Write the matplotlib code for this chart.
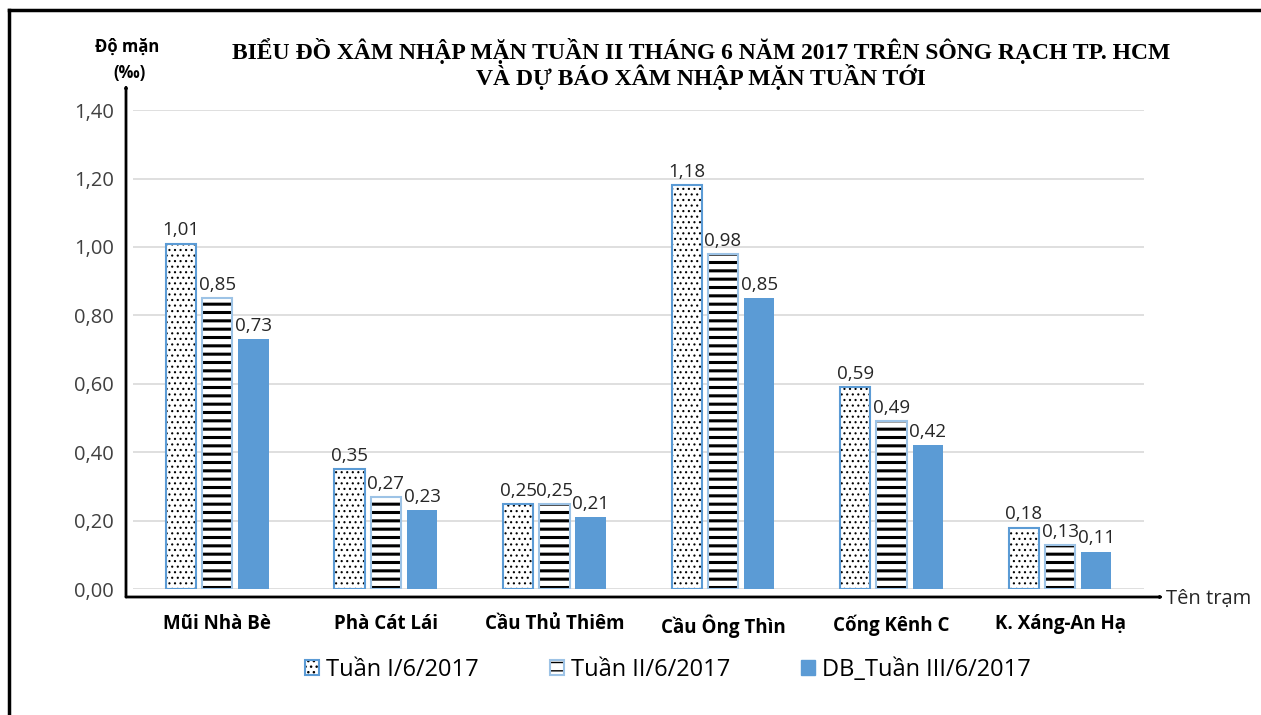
import matplotlib
matplotlib.use("Agg")
import matplotlib.pyplot as plt
from matplotlib.legend_handler import HandlerTuple
from matplotlib.patches import Rectangle
import numpy as np

stations = ["Mũi Nhà Bè", "Phà Cát Lái", "Cầu Thủ Thiêm", "Cầu Ông Thìn", "Cống Kênh C", "K. Xáng-An Hạ"]
week1 = [1.01, 0.35, 0.25, 1.18, 0.59, 0.18]
week2 = [0.85, 0.27, 0.25, 0.98, 0.49, 0.13]
week3_forecast = [0.73, 0.23, 0.21, 0.85, 0.42, 0.11]
series_names = ["Tuần I/6/2017", "Tuần II/6/2017", "DB_Tuần III/6/2017"]
yticks = [0.0, 0.2, 0.4, 0.6, 0.8, 1.0, 1.2, 1.4]

BLUE = "#5B9BD5"
LIGHT_BLUE = "#9DC3E6"
SANS = ["Open Sans", "DejaVu Sans"]

plt.rcParams["font.family"] = SANS

fig = plt.figure(figsize=(12.61, 7.15), dpi=100)
ax = fig.add_axes([0.1055, 0.176, 0.802, 0.67])

x = np.arange(len(stations))
step = 0.215
width = 0.18

# series 1: dotted fill, blue outline
with plt.rc_context({"hatch.linewidth": 0.8}):
    ax.bar(x - step, week1, width, color="white", edgecolor="black", hatch="...", linewidth=0, zorder=3)
ax.bar(x - step, week1, width, color="none", edgecolor=BLUE, linewidth=1.5, zorder=4)
# series 2: horizontal lines, light blue outline
with plt.rc_context({"hatch.linewidth": 2.2}):
    ax.bar(x, week2, width, color="white", edgecolor="black", hatch="--", linewidth=0, zorder=3)
ax.bar(x, week2, width, color="none", edgecolor=LIGHT_BLUE, linewidth=1.5, zorder=4)
# series 3: solid
ax.bar(x + step, week3_forecast, width, color=BLUE, edgecolor=BLUE, linewidth=0, zorder=3)

for offs, vals in [(-step, week1), (0, week2), (step, week3_forecast)]:
    for xi, v in zip(x + offs, vals):
        ax.text(xi, v + 0.012, f"{v:.2f}".replace(".", ","), ha="center", va="bottom",
                fontsize=13.5, color="#262626", zorder=5)

ax.set_xlim(-0.5, len(stations) - 0.5)
ax.set_ylim(0, 1.4)
ax.set_yticks(yticks)
ax.set_yticklabels([f"{t:.2f}".replace(".", ",") for t in yticks], fontsize=14.5, color="#404040")
ax.set_xticks(x)
ax.set_xticklabels(stations, fontsize=13.5, fontweight="bold", color="black")
ax.tick_params(axis="both", length=0)
ax.tick_params(axis="y", pad=14)
ax.tick_params(axis="x", pad=18)
ax.grid(axis="y", color="#D9D9D9", linewidth=1.2, zorder=0)
for s in ax.spines.values():
    s.set_visible(False)

# axis arrows drawn in figure pixel fraction coords
def fx(px):
    return px / 1261

def fy(py):
    return 1 - py / 715

arrow = dict(arrowstyle="-|>,head_length=0.8,head_width=0.35", color="black", lw=2, shrinkA=0, shrinkB=0)
fig.add_artist(matplotlib.patches.FancyArrowPatch((fx(126), fy(597)), (fx(126), fy(84)),
                                                  transform=fig.transFigure, **arrow))
fig.add_artist(matplotlib.patches.FancyArrowPatch((fx(126), fy(597)), (fx(1164), fy(597)),
                                                  transform=fig.transFigure, **arrow))

fig.text(fx(1166), fy(599), "Tên trạm", fontsize=14.5, ha="left", va="center", color="#262626")
fig.text(fx(127), fy(47), "Độ mặn", fontsize=12, fontweight="bold", ha="center", va="center")
fig.text(fx(130), fy(73), "(‰)", fontsize=12, fontweight="bold", ha="center", va="center")

fig.text(fx(701), fy(64),
         "BIỂU ĐỒ XÂM NHẬP MẶN TUẦN II THÁNG 6 NĂM 2017 TRÊN SÔNG RẠCH TP. HCM\nVÀ DỰ BÁO XÂM NHẬP MẶN TUẦN TỚI",
         fontsize=17, fontweight="bold", ha="center", va="center", family=["Liberation Serif", "DejaVu Serif"],
         linespacing=1.0)

# frame
fig.add_artist(plt.Line2D([fx(9), fx(9)], [0, fy(10)], color="black", lw=2.5, transform=fig.transFigure))
fig.add_artist(plt.Line2D([fx(9), 1], [fy(10), fy(10)], color="black", lw=2.5, transform=fig.transFigure))

# legend
with plt.rc_context({"hatch.linewidth": 0.8}):
    h1 = Rectangle((0, 0), 1, 1, facecolor="white", edgecolor="black", hatch="...", linewidth=0)
h1b = Rectangle((0, 0), 1, 1, facecolor="none", edgecolor=BLUE, linewidth=1.5)
with plt.rc_context({"hatch.linewidth": 2.0}):
    h2 = Rectangle((0, 0), 1, 1, facecolor="white", edgecolor="black", hatch="--", linewidth=0)
h2b = Rectangle((0, 0), 1, 1, facecolor="none", edgecolor=LIGHT_BLUE, linewidth=1.5)
h3 = Rectangle((0, 0), 1, 1, facecolor=BLUE, edgecolor=BLUE)
fig.legend([(h1, h1b), (h2, h2b), h3], series_names, handler_map={tuple: HandlerTuple(ndivide=1)},
           loc="center", bbox_to_anchor=(fx(668), fy(670)), ncol=3, frameon=False, fontsize=17,
           handlelength=0.6, handleheight=0.6, handletextpad=0.3, columnspacing=3.0)

fig.savefig("out.png", dpi=100)
